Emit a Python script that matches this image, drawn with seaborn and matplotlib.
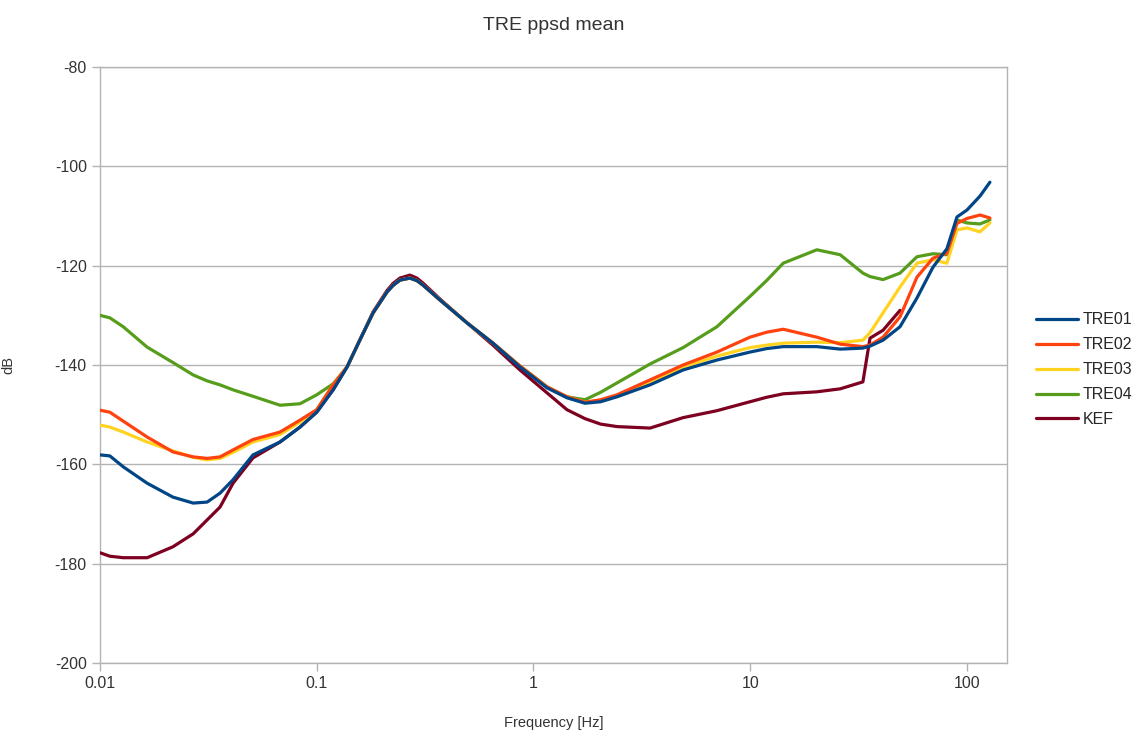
import numpy as np
import pandas as pd
import matplotlib
matplotlib.use("Agg")
import matplotlib.pyplot as plt
import seaborn as sns

freq = [0.01, 0.0111, 0.0128, 0.0165, 0.0217, 0.0269, 0.0312, 0.0358, 0.0411, 0.0508,
        0.0677, 0.0837, 0.1, 0.119, 0.138, 0.158, 0.182, 0.211, 0.2246, 0.242, 0.269,
        0.2898, 0.309, 0.370, 0.493, 0.650, 0.866, 1.154, 1.427, 1.728, 2.04, 2.43, 3.45,
        4.90, 7.02, 9.97, 11.9, 14.2, 20.3, 26.0, 33.1, 35.7, 41.0, 49.1,
        58.8, 69.7, 80.8, 89.9, 100.0, 114.8, 127.6]

tre01 = [-158.1, -158.3, -160.5, -163.8, -166.6, -167.8, -167.6, -165.8, -163.1, -158.1,
         -155.5, -152.5, -149.5, -145.0, -140.4, -135.0, -129.5, -125.3, -124.0, -122.9, -122.5,
         -123.0, -123.9, -126.9, -131.5, -135.6, -140.4, -144.6, -146.6, -147.7, -147.4, -146.4, -144.0,
         -141.0, -139.0, -137.4, -136.7, -136.3, -136.3, -136.8, -136.6, -136.2, -135.0, -132.3,
         -126.5, -120.3, -116.6, -110.2, -108.8, -106.0, -103.2]

tre02 = [-149.1, -149.5, -151.3, -154.5, -157.5, -158.5, -158.8, -158.5, -157.1, -155.0,
         -153.5, -151.1, -149.0, -144.0, -140.4, -135.0, -129.5, -125.3, -124.0, -122.9, -122.5,
         -123.0, -123.9, -126.9, -131.5, -135.6, -140.2, -144.4, -146.4, -147.5, -147.0, -146.0, -143.0,
         -140.0, -137.4, -134.4, -133.4, -132.8, -134.4, -135.8, -136.3, -136.0, -134.4, -130.3,
         -122.3, -118.5, -117.5, -111.5, -110.5, -109.8, -110.4]

tre03 = [-152.1, -152.5, -153.5, -155.5, -157.3, -158.6, -159.1, -158.8, -157.6, -155.5,
         -154.0, -151.5, -149.0, -144.0, -140.4, -135.0, -129.5, -125.3, -124.0, -122.9, -122.5,
         -123.0, -123.9, -126.9, -131.5, -135.6, -140.2, -144.4, -146.4, -147.5, -147.1, -146.2, -143.5,
         -140.5, -138.2, -136.5, -136.0, -135.6, -135.4, -135.5, -135.0, -133.5, -129.5, -124.3,
         -119.5, -118.8, -119.5, -112.8, -112.4, -113.2, -111.4]

tre04 = [-130.0, -130.5, -132.3, -136.4, -139.5, -142.0, -143.2, -144.0, -145.0, -146.3,
         -148.1, -147.8, -146.0, -143.8, -140.4, -135.0, -129.5, -125.3, -124.0, -122.9, -122.5,
         -123.0, -123.9, -126.9, -131.5, -135.6, -140.2, -144.4, -146.4, -147.0, -145.5, -143.6, -139.8,
         -136.5, -132.3, -126.2, -123.0, -119.5, -116.8, -117.8, -121.5, -122.2, -122.8, -121.5,
         -118.2, -117.6, -117.8, -110.8, -111.4, -111.6, -110.8]

kef = [-177.8, -178.5, -178.8, -178.8, -176.6, -174.0, -171.2, -168.6, -163.8, -158.7,
       -155.5, -152.5, -149.5, -145.0, -140.4, -135.0, -129.3, -125.0, -123.6, -122.5, -121.9,
       -122.5, -123.5, -126.7, -131.5, -136.0, -141.0, -145.6, -149.0, -150.8, -151.9, -152.4, -152.7,
       -150.6, -149.2, -147.4, -146.5, -145.8, -145.4, -144.8, -143.4, -134.6, -133.0, -129.0,
       np.nan, np.nan, np.nan, np.nan, np.nan, np.nan, np.nan]

series_names = ["TRE01", "TRE02", "TRE03", "TRE04", "KEF"]
series_values = [tre01, tre02, tre03, tre04, kef]
colors = ["#004586", "#ff420e", "#ffd320", "#579d1c", "#7e0021"]

rows = []
for name, vals in zip(series_names, series_values):
    for f, v in zip(freq, vals):
        if not np.isnan(v):
            rows.append({"Frequency": f, "dB": v, "series": name})
df = pd.DataFrame(rows)

sns.set_style("white")
plt.rcParams["font.family"] = ["Liberation Sans", "DejaVu Sans"]
plt.rcParams["axes.unicode_minus"] = False

fig = plt.figure(figsize=(11.34, 7.35), dpi=100)
ax = fig.add_axes([100 / 1134, 1 - 663 / 735, 907 / 1134, 596 / 735])

# draw in reverse so TRE01 ends on top
for i, name in reversed(list(enumerate(series_names))):
    sns.lineplot(data=df[df["series"] == name], x="Frequency", y="dB",
                 color=colors[i], linewidth=2.3, ax=ax, label=name,
                 estimator=None, sort=True, zorder=3 + (5 - i))

ax.set_xscale("log")
ax.set_xlim(0.01, 153)
ax.set_ylim(-200, -80)
ax.set_yticks(np.arange(-200, -79, 20))
ax.set_xticks([0.01, 0.1, 1, 10, 100])
ax.set_xticklabels(["0.01", "0.1", "1", "10", "100"])
ax.xaxis.set_minor_locator(matplotlib.ticker.NullLocator())
ax.grid(axis="y", color="#b3b3b3", linewidth=1)
ax.grid(axis="x", visible=False)
for sp in ax.spines.values():
    sp.set_color("#b3b3b3")
    sp.set_linewidth(1)
ax.tick_params(axis="both", which="major", length=6, width=1, color="#b3b3b3",
               labelsize=11.5, labelcolor="#333333", direction="out",
               bottom=True, left=True)
ax.set_xlabel("Frequency [Hz]", fontsize=10.5, color="#333333", labelpad=18)
ax.set_ylabel("dB", fontsize=10.5, color="#333333", labelpad=28)
ax.set_title("TRE ppsd mean", fontsize=14, color="#333333", pad=27)

handles, labels = ax.get_legend_handles_labels()
order = [labels.index(n) for n in series_names]
ax.legend([handles[k] for k in order], [labels[k] for k in order],
          loc="center left", bbox_to_anchor=(1030 / 1134, 0.497),
          bbox_transform=fig.transFigure, frameon=False, fontsize=11.5,
          handlelength=2.6, handletextpad=0.3, labelspacing=0.62,
          borderaxespad=0)

fig.savefig("out.png", dpi=100)
